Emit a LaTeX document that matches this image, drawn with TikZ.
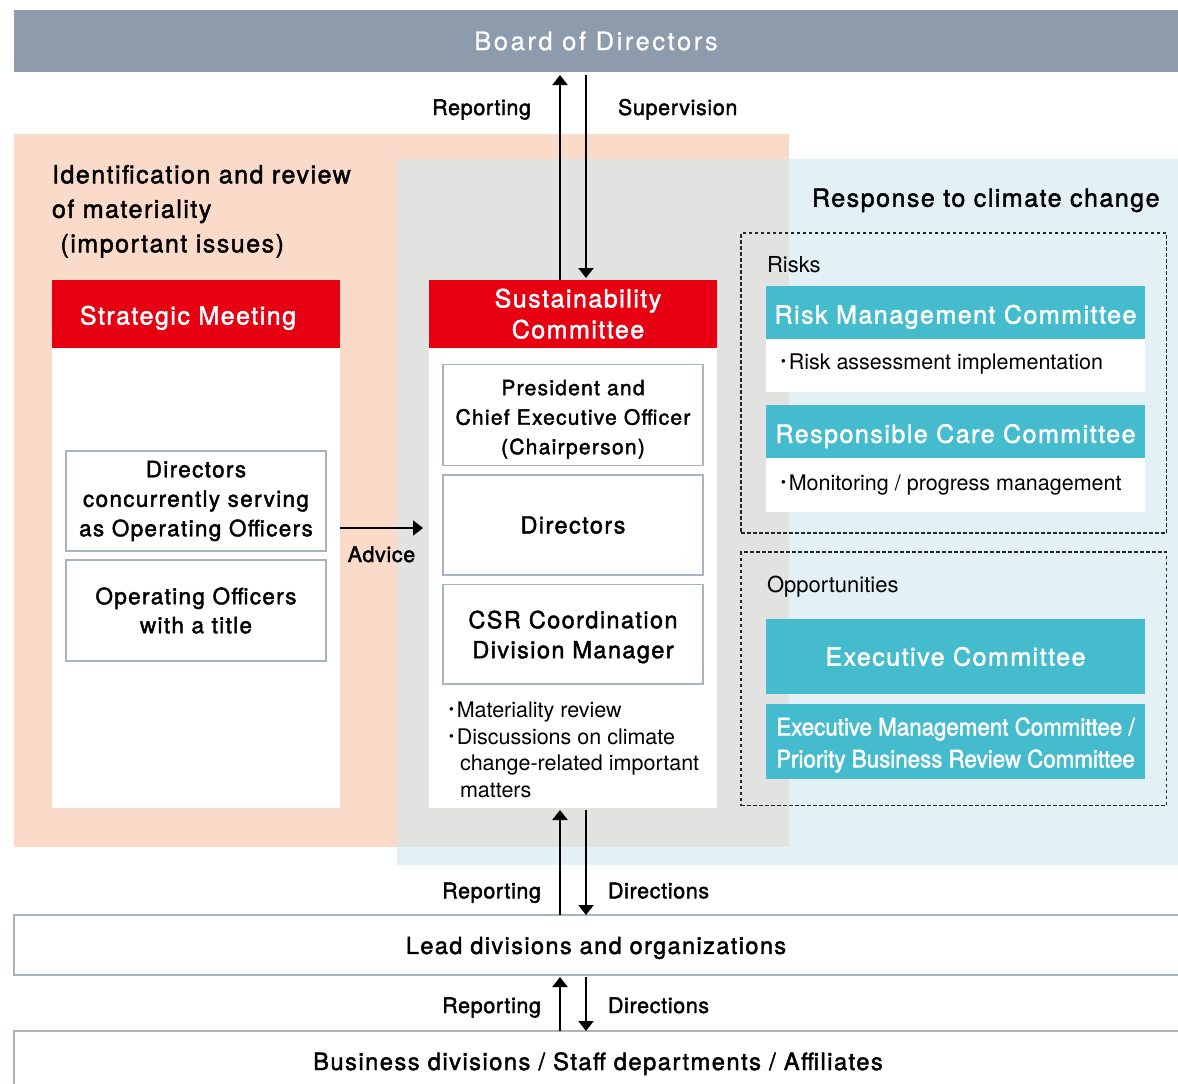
\documentclass[tikz,border=0pt]{standalone}
\usepackage{fontspec}
\setmainfont{TeX Gyre Heros}
\newfontfamily\mdFam[FakeBold=1.8,LetterSpace=6]{TeX Gyre Heros}
\newfontfamily\mdnFam[FakeBold=1.8,LetterSpace=3]{TeX Gyre Heros}
\newfontfamily\rgwFam[FakeBold=0.6,LetterSpace=10]{TeX Gyre Heros}
\newfontfamily\cndFam[FakeBold=1.8,FakeStretch=0.93]{TeX Gyre Heros}
\newfontfamily\jpFam{Noto Sans CJK JP}
\usetikzlibrary{arrows.meta}
\definecolor{boardgray}{RGB}{142,155,172}
\definecolor{peach}{RGB}{250,218,200}
\definecolor{paleblue}{RGB}{227,241,246}
\definecolor{overlap}{RGB}{226,226,224}
\definecolor{jred}{RGB}{230,0,18}
\definecolor{jteal}{RGB}{69,188,206}
\definecolor{edgecol}{RGB}{168,179,193}
\newcommand\fBoard{\rgwFam\fontsize{25.5}{30}\selectfont}
\newcommand\fHead{\mdFam\fontsize{25}{31}\selectfont}
\newcommand\fBox{\mdFam\fontsize{22.5}{29.5}\selectfont}
\newcommand\fLbl{\mdnFam\fontsize{21.5}{26}\selectfont}
\newcommand\fWide{\mdFam\fontsize{23.5}{28}\selectfont}
\newcommand\fReg{\fontsize{21.5}{26.5}\selectfont}
\newcommand\fCond{\cndFam\fontsize{24}{32}\selectfont}
\newcommand\jdot{{\jpFam ･}}
\newcommand\tallstrut[1]{\rule{0pt}{#1}}
\begin{document}
\begin{tikzpicture}[x=1pt,y=-1pt,
  every node/.style={inner sep=0pt,outer sep=0pt},
  redhead/.style={fill=jred,text=white,font=\fHead,align=center,minimum width=288pt,minimum height=67.5pt},
  whitebody/.style={fill=white,minimum width=288pt},
  member/.style={fill=white,draw=edgecol,line width=1.5pt,font=\fBox,align=center,minimum width=260pt},
  tealhead/.style={fill=jteal,text=white,font=\fHead,align=center,minimum width=379pt},
  tealbody/.style={fill=white,minimum width=379pt,minimum height=53pt},
  dashbox/.style={draw=black!85,line width=1.2pt,dash pattern=on 3.5pt off 2.5pt,minimum width=425.5pt},
  lbl/.style={font=\fLbl},
  regtxt/.style={font=\fReg},
  arr/.style={line width=2.3pt,-{Triangle[width=15pt,length=10pt]}},
  wideline/.style={draw=edgecol,line width=1.5pt}
]
\useasboundingbox (0,0) rectangle (1178,1084);
% background areas
\fill[peach] (14,134) rectangle (789,847);
\fill[paleblue] (397,159) rectangle (1178,865);
\fill[overlap] (397,159) rectangle (789,847);

% board
\node[fill=boardgray,text=white,font=\fBoard,minimum width=1164pt,minimum height=62pt] (board) at (596,41) {Board of Directors};

% left area title
\node[font=\fHead,anchor=base west] (id1) at (52,183.3) {Identification and review};
\node[font=\fHead,anchor=base west] (id2) at (52,217.8) {of materiality};
\node[font=\fHead,anchor=base west] (id3) at (52,252.3) {\ (important issues)};

% strategic meeting
\node[redhead,text height=27pt] (smhead) at (196,313.75) {Strategic Meeting\hspace{16pt}};
\node[whitebody,minimum height=460.5pt] (smbody) at (196,577.75) {};
\node[member,minimum height=100pt] (dirbox) at (196,501) {Directors\\concurrently serving\\as Operating Officers};
\node[member,minimum height=101pt,font=\mdFam\fontsize{22.5}{29}\selectfont] (opbox) at (196,610.5) {Operating Officers\\with a title};

% sustainability committee
\node[redhead] (schead) at (573,313.75) {\hspace{10pt}Sustainability\\\hspace{10pt}Committee};
\node[whitebody,minimum height=460.5pt] (scbody) at (573,577.75) {};
\node[member,minimum height=101pt,font=\mdFam\fontsize{21}{29.5}\selectfont] (pres) at (573,415) {\tallstrut{24pt}President and\\Chief Executive Officer\\(Chairperson)};
\node[member,minimum height=100pt,font=\mdFam\fontsize{23.5}{29.5}\selectfont] (dirs) at (573,525) {Directors};
\node[member,minimum height=99.5pt,font=\mdFam\fontsize{23.5}{30}\selectfont] (csr) at (573,634.25) {\tallstrut{23pt}CSR Coordination\\Division Manager};
\node[regtxt,anchor=base west] (sb1) at (446,717.5) {\jdot Materiality review};
\node[regtxt,anchor=base west] (sb2) at (446,744) {\jdot Discussions on climate};
\node[regtxt,anchor=base west] (sb3) at (460,770.5) {change-related important};
\node[regtxt,anchor=base west] (sb4) at (460,797) {matters};

% climate change area
\node[font=\fHead,anchor=base west] (resp) at (812,206.7) {Response to climate change};
\node[dashbox,minimum height=300pt] (riskbox) at (953.75,383) {};
\node[font=\fontsize{22}{26}\selectfont,anchor=base west] (risks) at (767,272.7) {Risks};
\node[tealhead,minimum height=52.5pt,text height=28pt] (rmhead) at (955.5,312.25) {Risk Management Committee};
\node[tealbody] (rmbody) at (955.5,365) {};
\node[regtxt,anchor=base west] (rmtxt) at (778,369) {\jdot Risk assessment implementation};
\node[tealhead,minimum height=53pt,text height=28pt] (rchead) at (955.5,431.5) {Responsible Care Committee};
\node[tealbody,minimum height=53.5pt] (rcbody) at (955.5,484.75) {};
\node[regtxt,anchor=base west] (rctxt) at (778,490) {\jdot Monitoring / progress management};

\node[dashbox,minimum height=253.5pt] (oppbox) at (953.75,678.75) {};
\node[font=\fontsize{22}{26}\selectfont,anchor=base west] (opps) at (767,592) {Opportunities};
\node[tealhead,minimum height=75pt] (exec) at (955.5,656.5) {Executive Committee};
\node[tealhead,minimum height=74.5pt,font=\fCond] (emc) at (955.5,741.25) {\tallstrut{25.5pt}Executive Management Committee /\\Priority Business Review Committee};

% lower levels
\node[fill=white,font=\fWide,minimum width=1164pt,minimum height=60pt,text height=23pt] (lead) at (596,945) {Lead divisions and organizations};
\draw[wideline] (lead.north east) -- (lead.north west) -- (lead.south west) -- (lead.south east);
\node[fill=white,minimum width=1164pt,minimum height=53pt] (biz) at (596,1057.5) {};
\draw[wideline] (biz.north east) -- (biz.north west) -- (biz.south west);
\node[font=\mdFam\fontsize{23.8}{28}\selectfont,anchor=base] (biztxt) at (598,1070) {Business divisions / Staff departments / Affiliates};

% connectors
\coordinate (t1) at ([xshift=-13pt]schead.north);
\coordinate (t2) at ([xshift=13pt]schead.north);
\draw[arr,shorten >=3pt] (t1) -- (t1 |- board.south);
\draw[arr,shorten <=3pt,shorten >=2pt] (t2 |- board.south) -- (t2);
\node[lbl,anchor=base east] (repT) at (531,115) {Reporting};
\node[lbl,anchor=base west] (supT) at (618,115) {Supervision};

\coordinate (b1) at ([xshift=-13pt]scbody.south);
\coordinate (b2) at ([xshift=13pt]scbody.south);
\draw[arr,shorten >=2pt] (b1 |- lead.north) -- (b1);
\draw[arr,shorten <=2pt] (b2) -- (b2 |- lead.north);
\node[lbl,anchor=base east] (rep1) at (541,898.3) {Reporting};
\node[lbl,anchor=base west] (dir1) at (608,898.3) {Directions};

\draw[arr,shorten >=2pt] (b1 |- biz.north) -- (b1 |- lead.south);
\draw[arr,shorten <=2pt] (b2 |- lead.south) -- (b2 |- biz.north);
\node[lbl,anchor=base east] (rep2) at (541,1013) {Reporting};
\node[lbl,anchor=base west] (dir2) at (608,1013) {Directions};

\coordinate (advA) at (340,528);
\draw[arr,shorten >=6pt] (advA) -- (advA -| scbody.west);
\node[lbl,anchor=base] (advT) at (381.5,562) {Advice};
\end{tikzpicture}
\end{document}
